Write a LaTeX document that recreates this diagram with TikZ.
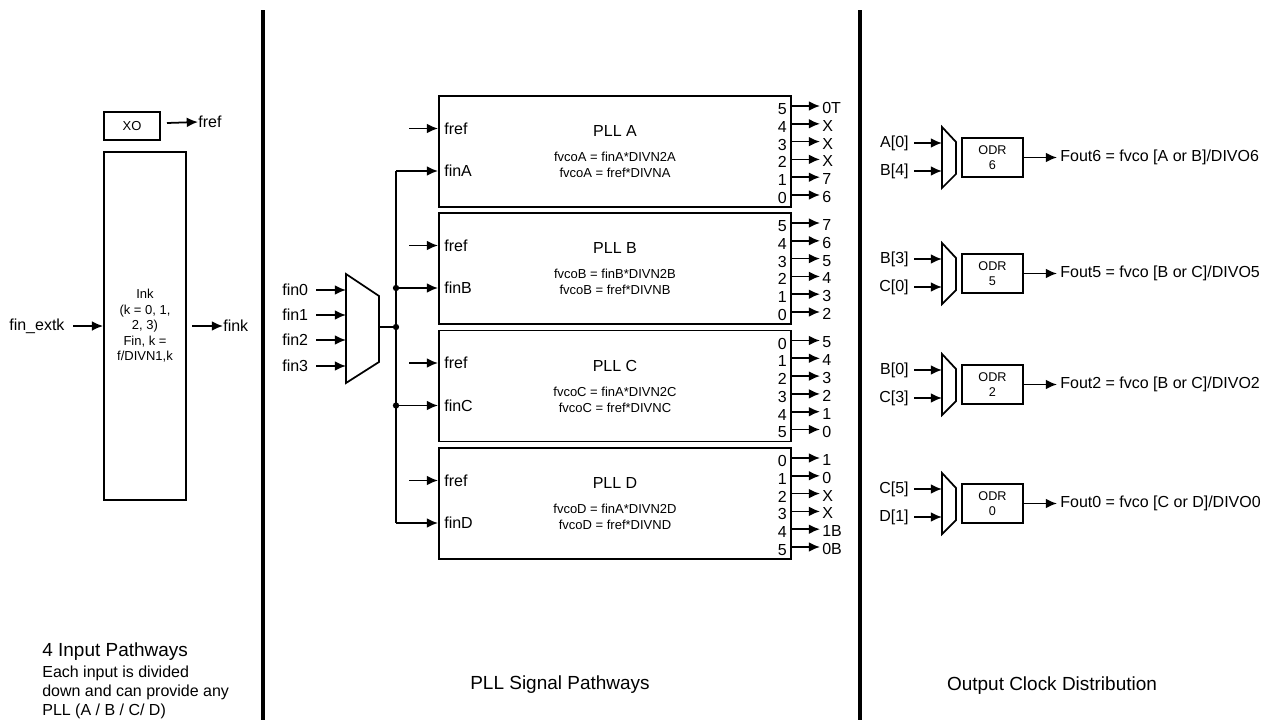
\documentclass[tikz,border=0pt]{standalone}
\usepackage{fontspec}
\setmainfont{Liberation Sans}
\usetikzlibrary{arrows.meta}
\begin{document}
\begin{tikzpicture}[x=0.02cm,y=-0.02cm,
  arr/.style={line width=1pt,-{Latex[length=6.4pt,width=5.6pt]}},
  wire/.style={line width=1pt},
  box/.style={draw,line width=1.1pt,inner sep=0pt},
  lbl/.style={inner sep=0pt,font=\fontsize{9.1}{11}\selectfont},
  small/.style={inner sep=0pt,font=\fontsize{7.4}{8.8}\selectfont},
  big/.style={inner sep=0pt,font=\fontsize{10.8}{12}\selectfont},
  wall/.style={line width=2.3pt},
  dot/.style={circle,fill,inner sep=0pt,minimum size=3.6pt}]
\useasboundingbox (0,0) rectangle (1276,720);

% walls
\coordinate (w1t) at (263,10); \coordinate (w1b) at (263,720);
\coordinate (w2t) at (860,10); \coordinate (w2b) at (860,720);
\draw[wall] (w1t) -- (w1b);
\draw[wall] (w2t) -- (w2b);

% ---------- left section ----------
\node[box,line width=1pt,minimum width=1.12cm,minimum height=0.56cm,small] (xo) at (132,126) {XO};
\coordinate (xos) at (167,123);
\node[lbl,anchor=west] (xofref) at (198,122) {fref};
\draw[arr] (xos) -- (xofref.west);

\node[box,line width=1pt,minimum width=1.64cm,minimum height=6.96cm,align=center,small] (ink) at (145,326)
  {Ink\\(k = 0, 1,\\2, 3)\\Fin, k =\\f/DIVN1,k};
\node[lbl,anchor=west] (fx) at (9,326) {fin\_extk};
\coordinate (fxs) at (73,326);
\draw[arr] (fxs) -- (ink.west);
\coordinate (fks) at (192,326);
\node[lbl,anchor=west] (fk) at (223,326) {fink};
\draw[arr] (fks) -- (fk.west);

\node[big,anchor=west] (t1) at (42,652) {4 Input Pathways};
\node[lbl,anchor=west] (t2) at (42,673) {Each input is divided};
\node[lbl,anchor=west] (t3) at (42,692) {down and can provide any};
\node[lbl,anchor=west] (t4) at (42,711) {PLL (A / B / C/ D)};

% ---------- middle section ----------
\foreach \pn/\py/\outs/\fa in {
  A/96/{5/0T,4/X,3/X,2/X,1/7,0/6}/A,
  B/213/{5/7,4/6,3/5,2/4,1/3,0/2}/B,
  C/330.5/{0/5,1/4,2/3,3/2,4/1,5/0}/A,
  D/448/{0/1,1/0,2/X,3/X,4/1B,5/0B}/A} {
  \node[box,minimum width=7.04cm,minimum height=2.22cm] (pll\pn) at (615,\py+55.5) {};
  \node[lbl,anchor=west] (fref\pn) at (444,\py+32.5) {fref};
  \node[lbl,anchor=west] (fin\pn) at (444,\py+75) {fin\pn};
  \coordinate (frefsrc\pn) at (409,\py+32.5);
  \draw[arr] (frefsrc\pn) -- (frefsrc\pn -| pll\pn.west);
  \node[lbl] (title\pn) at (615,\py+35) {PLL \pn};
  \node[small] (eqa\pn) at (615,\py+61) {fvco\pn{} = fin\fa*DIVN2\pn};
  \node[small] (eqb\pn) at (615,\py+77) {fvco\pn{} = fref*DIVN\pn};
  \coordinate (bus\pn) at (396,\py+75);
  \draw[arr] (bus\pn) -- (bus\pn -| pll\pn.west);
  \foreach \d/\l [count=\i] in \outs {
    \coordinate (os\pn\i) at (791,\py+10+\i*17.8-17.8);
    \coordinate (oe\pn\i) at (820,\py+10+\i*17.8-17.8);
    \node[lbl,anchor=east] (dg\pn\i) at (787,\py+13+\i*17.8-17.8) {\d};
    \node[lbl,anchor=west] (lb\pn\i) at (822,\py+12+\i*17.8-17.8) {\l};
    \draw[arr] (os\pn\i) -- (oe\pn\i);
  }
}

% input mux
\coordinate (mtl) at (346,274); \coordinate (mtr) at (379,296);
\coordinate (mbr) at (379,362); \coordinate (mbl) at (346,383);
\draw[line width=1pt] (mtl) -- (mtr) -- (mbr) -- (mbl) -- cycle;
\foreach \k/\y in {0/290,1/315,2/340,3/366} {
  \node[lbl,anchor=west] (fin\k) at (282,\y) {fin\k};
  \coordinate (fs\k) at (316,\y);
  \coordinate (fe\k) at (346,\y);
  \draw[arr] (fs\k) -- (fe\k);
}
\coordinate (mout) at (379,327);
\coordinate (jm) at (396,327);
\draw[wire] (mout) -- (jm);
\draw[wire] (busA) -- (busD);
\node[dot] (dj) at (jm) {};
\node[dot] (djB) at (busB) {};
\node[dot] (djC) at (busC) {};

\node[big] (t5) at (560,685) {PLL Signal Pathways};

% ---------- right section ----------
\foreach \gn/\gy/\ia/\ib/\src in {
  6/127/{A[0]}/{B[4]}/{A or B},
  5/243/{B[3]}/{C[0]}/{B or C},
  2/354/{B[0]}/{C[3]}/{B or C},
  0/473/{C[5]}/{D[1]}/{C or D}} {
  \coordinate (xa\gn) at (942,\gy); \coordinate (xb\gn) at (956,\gy+15);
  \coordinate (xc\gn) at (956,\gy+47); \coordinate (xd\gn) at (942,\gy+61);
  \draw[line width=1pt] (xa\gn) -- (xb\gn) -- (xc\gn) -- (xd\gn) -- cycle;
  \node[lbl,anchor=east] (ia\gn) at (909,\gy+16) {\ia};
  \node[lbl,anchor=east] (ib\gn) at (909,\gy+44) {\ib};
  \coordinate (ias\gn) at (914,\gy+16); \coordinate (iae\gn) at (942,\gy+16);
  \coordinate (ibs\gn) at (914,\gy+44); \coordinate (ibe\gn) at (942,\gy+44);
  \draw[arr] (ias\gn) -- (iae\gn);
  \draw[arr] (ibs\gn) -- (ibe\gn);
  \node[box,line width=0.9pt,minimum width=1.22cm,minimum height=0.78cm,align=center,
        font=\fontsize{7.2}{8.5}\selectfont] (odr\gn) at (992.5,\gy+30.5) {ODR\\\gn};
  \coordinate (oe\gn) at (1057,\gy+30.5);
  \draw[arr] (odr\gn.east) -- (oe\gn);
  \node[lbl,anchor=west] (fo\gn) at (1060,\gy+30.5) {Fout\gn{} = fvco [\src]/DIVO\gn};
}

\node[big] (t6) at (1052,686) {Output Clock Distribution};
\end{tikzpicture}
\end{document}
